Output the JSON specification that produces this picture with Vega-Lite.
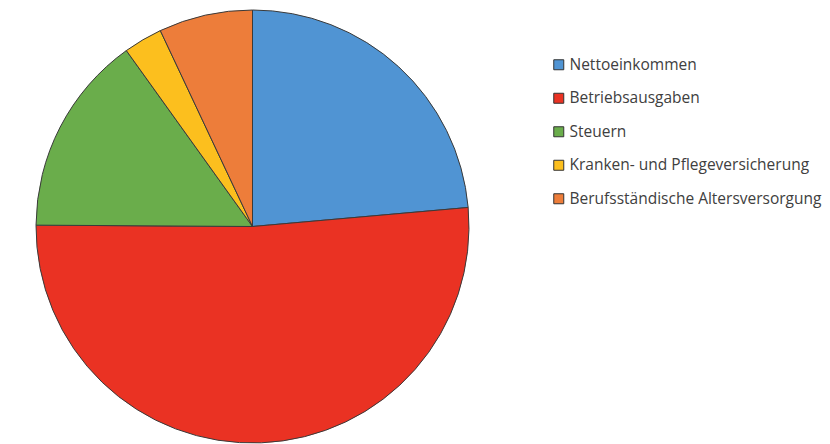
{
  "$schema": "https://vega.github.io/schema/vega-lite/v6.json",
  "width": 433,
  "height": 433,
  "autosize": "none",
  "padding": {"left": 36, "top": 10, "right": 361, "bottom": 1},
  "background": "white",
  "data": {"values": [
    {"kategorie": "Nettoeinkommen", "anteil": 23.6, "ord": 1},
    {"kategorie": "Betriebsausgaben", "anteil": 51.5, "ord": 2},
    {"kategorie": "Steuern", "anteil": 15.0, "ord": 3},
    {"kategorie": "Kranken- und Pflegeversicherung", "anteil": 2.9, "ord": 4},
    {"kategorie": "Berufsständische Altersversorgung", "anteil": 7.0, "ord": 5}
  ]},
  "mark": {"type": "arc", "outerRadius": 216.5, "stroke": "#3a3a3a", "strokeWidth": 1},
  "encoding": {
    "theta": {"field": "anteil", "type": "quantitative", "stack": true},
    "order": {"field": "ord", "type": "quantitative", "sort": "ascending"},
    "color": {
      "field": "kategorie",
      "type": "nominal",
      "sort": ["Nettoeinkommen", "Betriebsausgaben", "Steuern", "Kranken- und Pflegeversicherung", "Berufsständische Altersversorgung"],
      "scale": {
        "domain": ["Nettoeinkommen", "Betriebsausgaben", "Steuern", "Kranken- und Pflegeversicherung", "Berufsständische Altersversorgung"],
        "range": ["#5094d3", "#ea3223", "#6aad4b", "#fcbf1e", "#ed7d3a"]
      },
      "legend": {
        "title": null,
        "orient": "none",
        "legendX": 515,
        "legendY": 47,
        "padding": 0,
        "symbolType": "square",
        "symbolSize": 100,
        "symbolStrokeColor": "#333",
        "symbolStrokeWidth": 1,
        "labelFont": "Open Sans",
        "labelFontSize": 15.5,
        "labelColor": "#404040",
        "labelOffset": 3,
        "rowPadding": 16.5,
        "labelLimit": 400
      }
    }
  },
  "config": {"view": {"stroke": null}}
}
